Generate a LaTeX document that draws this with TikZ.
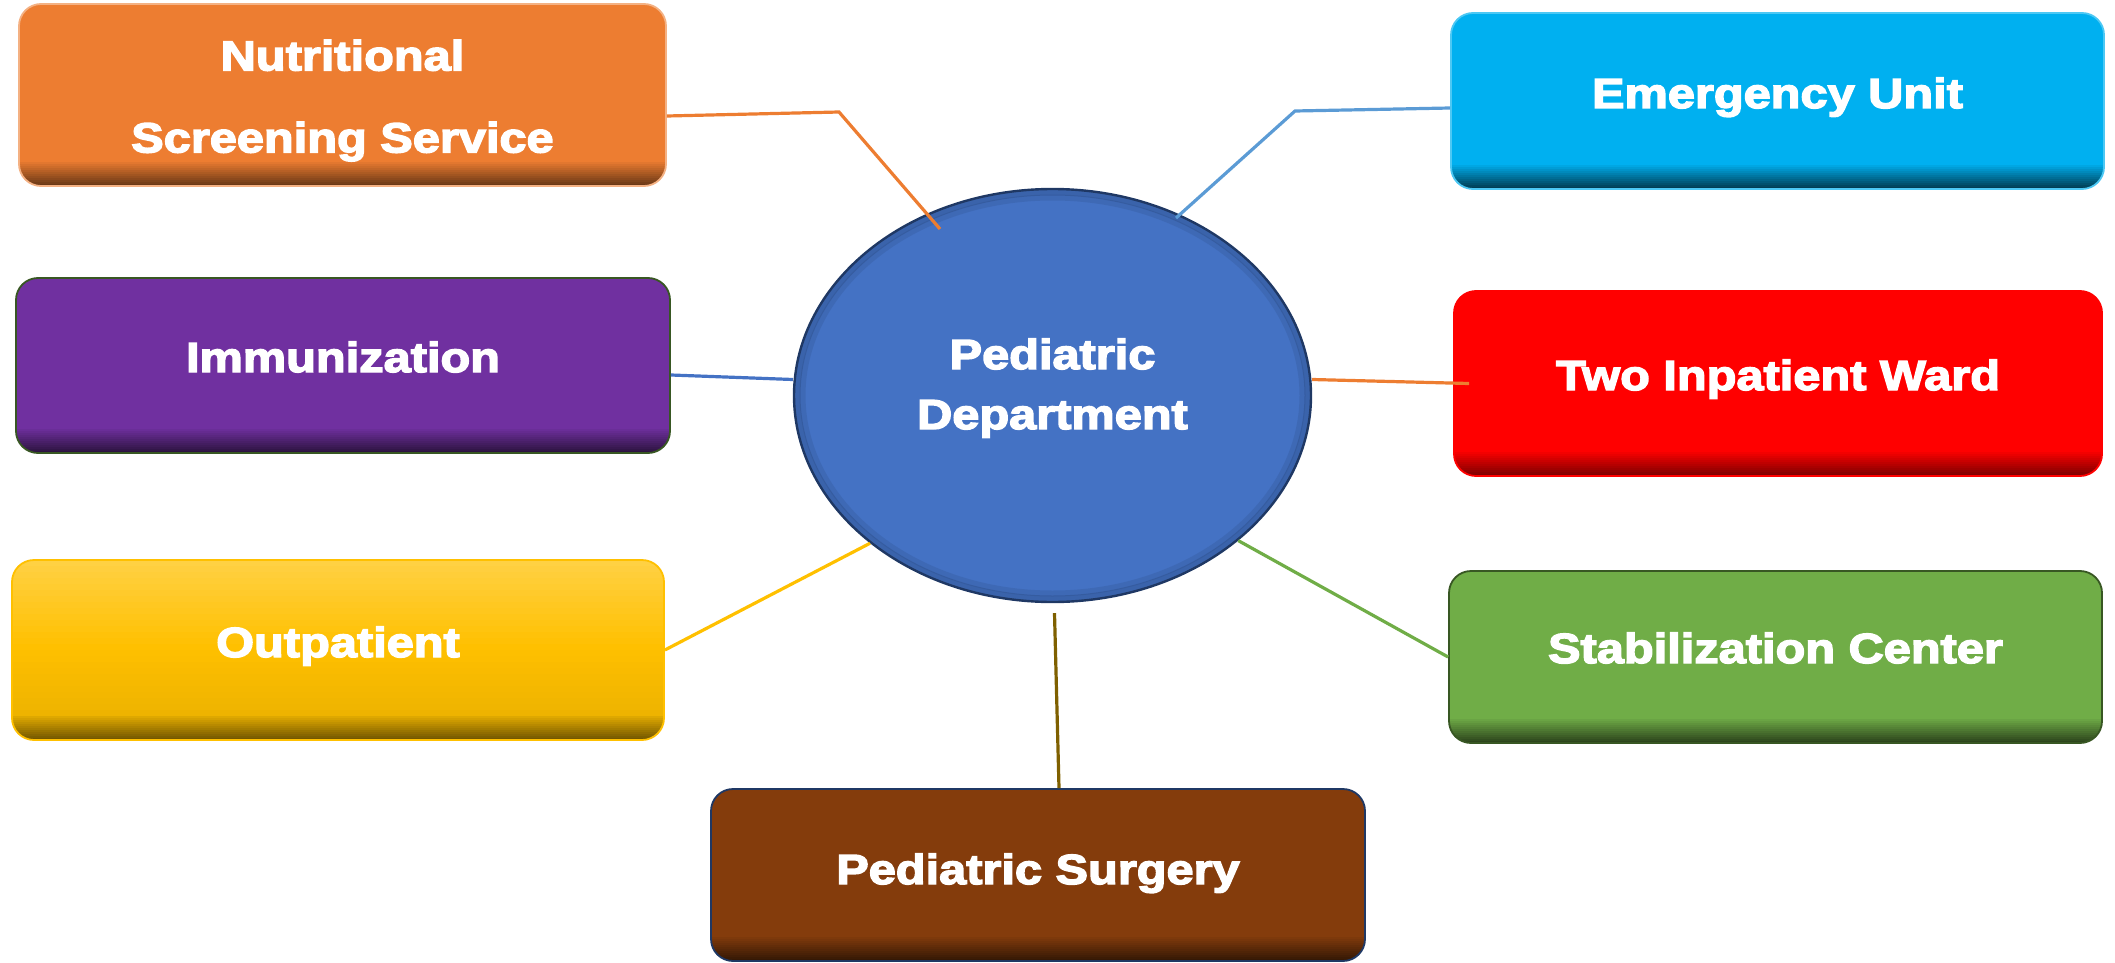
\documentclass[tikz,border=0pt]{standalone}
\usepackage{fontspec}
\newfontfamily\heavy[FakeBold=3.5,FakeStretch=1.16]{Liberation Sans Bold}
\usetikzlibrary{shapes.geometric}
\definecolor{cOrange}{HTML}{ED7D31}
\definecolor{cPurple}{HTML}{7030A0}
\definecolor{cGold}{HTML}{FFC000}
\definecolor{cBrown}{HTML}{843C0C}
\definecolor{cCyan}{HTML}{00B0F0}
\definecolor{cRed}{HTML}{FF0000}
\definecolor{cGreen}{HTML}{70AD47}
\definecolor{cBlue}{HTML}{4472C4}
\definecolor{cLightBlue}{HTML}{5B9BD5}
\definecolor{cNavy}{HTML}{1F3864}
\definecolor{cDkGreen}{HTML}{385723}
\definecolor{cDkGold}{HTML}{7F6000}
\newcommand\up[2]{\raisebox{#1}[\height][\depth]{#2}}
\begin{document}
\begin{tikzpicture}[x=0.5pt,y=-0.5pt,
  band/.style 2 args={path picture={
      \foreach \k in {1,...,12}{
        \pgfmathsetmacro\p{\k*100/12}
        \fill[sharp corners, #2!\p!#1]
          ([yshift={12pt-\k*1pt}]path picture bounding box.south west) rectangle
          ([yshift={12.1pt-(\k-1)*1pt}]path picture bounding box.south east);}}},
  box/.style n args={3}{rounded corners=11pt, fill=#1, draw=#2, line width=0.9pt,
    text=white, align=center, inner sep=0pt, text height=15pt, text depth=0pt,
    font=\heavy\fontsize{21}{41}\selectfont, band={#1}{#3}},
  link/.style={line width=1.6pt}]
\useasboundingbox (0,0) rectangle (2115,963);

% boxes
\node[box={cOrange}{cOrange!60!white}{cOrange!45!black}, minimum width=323.5pt, minimum height=91pt,
  text height=, text depth=]
  (nut) at (342.5,95) {\begin{tabular}{@{}c@{}}Nutritional\\Screening Service\end{tabular}};
\node[box={cPurple}{cDkGreen}{cPurple!40!black}, minimum width=327pt, minimum height=87.5pt]
  (imm) at (343,365.5) {\up{4.25pt}{Immunization}};
\node[box={cGold}{cGold}{cDkGold}, minimum width=326pt, minimum height=90pt,
  path picture={
      \foreach \k in {1,...,15}{
        \pgfmathsetmacro\p{72+28*\k/15}
        \fill[sharp corners, cGold!\p!white]
          ([yshift={-(\k-1)*3pt}]path picture bounding box.north west) rectangle
          ([yshift={-\k*3pt-0.1pt}]path picture bounding box.north east);}
      \foreach \k in {1,...,15}{
        \pgfmathsetmacro\p{100-9*\k/15}
        \fill[sharp corners, cGold!\p!black]
          ([yshift={-45pt-(\k-1)*3pt}]path picture bounding box.north west) rectangle
          ([yshift={-45pt-\k*3pt-0.1pt}]path picture bounding box.north east);}
      \foreach \k in {1,...,12}{
        \pgfmathsetmacro\p{\k*100/12}
        \fill[sharp corners, cDkGold!\p!cGold!91!black]
          ([yshift={12pt-\k*1pt}]path picture bounding box.south west) rectangle
          ([yshift={12.1pt-(\k-1)*1pt}]path picture bounding box.south east);}}]
  (out) at (338,650) {\up{4pt}{Outpatient}};
\node[box={cBrown}{cNavy}{cBrown!40!black}, minimum width=327pt, minimum height=86pt]
  (sur) at (1038,875) {\up{3pt}{Pediatric Surgery}};
\node[box={cCyan}{cCyan!70!white}{cCyan!35!black}, minimum width=326.5pt, minimum height=88pt]
  (eme) at (1777.5,101) {\up{4pt}{Emergency Unit}};
\node[box={cRed}{cRed}{cRed!50!black}, minimum width=324pt, minimum height=92.5pt]
  (two) at (1778,383.5) {\up{4.25pt}{Two Inpatient Ward}};
\node[box={cGreen}{cDkGreen}{cGreen!40!black}, minimum width=326.5pt, minimum height=86pt]
  (sta) at (1775.5,657) {\up{4.5pt}{Stabilization Center}};

% central ellipse
\node[ellipse, fill=cBlue, draw=cNavy, line width=1.2pt, minimum width=258.5pt,
  minimum height=206.5pt, inner sep=0pt, text=white, align=center,
  font=\heavy\fontsize{21}{30}\selectfont,
  path picture={
     \draw[cNavy, opacity=0.25, line width=3pt] (path picture bounding box.center) ellipse [x radius=127.5pt, y radius=101.5pt];
     \draw[cNavy, opacity=0.15, line width=3pt] (path picture bounding box.center) ellipse [x radius=125pt, y radius=99pt];}]
  (pd) at (1052.5,395.5) {\up{4.25pt}{\begin{tabular}{@{}c@{}}Pediatric\\Department\end{tabular}}};

% bend points and free ends
\coordinate (nutB) at (839,112);
\coordinate (nutC) at (940,229);
\coordinate (emeB) at (1295,111);
\coordinate (emeC) at (1176,218);

% connectors
\draw[link, cOrange] ([yshift=-10.5pt]nut.east) -- (nutB) -- (nutC);
\draw[link, cLightBlue] ([yshift=-3.5pt]eme.west) -- (emeB) -- (emeC);
\draw[link, cBlue] ([yshift=-4.75pt]imm.east) -- ([yshift=8pt]pd.west);
\draw[link, cOrange] ([yshift=8pt]pd.east) -- ([xshift=8pt]two.west);
\draw[link, cGold] (out.east) -- (pd.219);
\draw[link, cGreen] (pd.-38.6) -- (sta.west);
\draw[link, cDkGold] ([xshift=1pt,yshift=-5pt]pd.south) -- ([xshift=10.5pt]sur.north);
\end{tikzpicture}
\end{document}
